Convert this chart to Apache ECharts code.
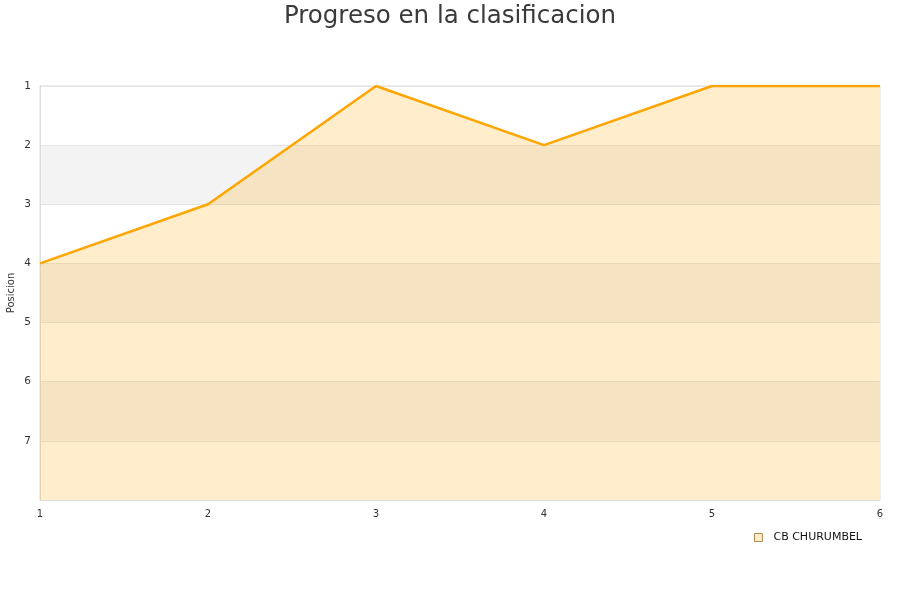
<!DOCTYPE html>
<html>
<head>
<meta charset="utf-8">
<script src="https://cdn.jsdelivr.net/npm/echarts@6/dist/echarts.min.js"></script>
<style>
html, body { margin: 0; padding: 0; background: #fff; }
#chart { width: 900px; height: 600px; }
</style>
</head>
<body>
<div id="chart"></div>
<script>
var jornadas = [1, 2, 3, 4, 5, 6];
var posiciones = [4, 3, 1, 2, 1, 1];
var equipo = 'CB CHURUMBEL';

var puntos = jornadas.map(function (j, i) { return [j, posiciones[i]]; });

var chart = echarts.init(document.getElementById('chart'));
chart.setOption({
    animation: false,
    backgroundColor: '#fff',
    title: {
        text: 'Progreso en la clasificacion',
        left: 'center',
        top: -1,
        textStyle: { fontSize: 24.5, fontWeight: 'normal', color: '#3a3a3a', fontFamily: 'DejaVu Sans' }
    },
    legend: {
        data: [equipo],
        right: 33,
        top: 527,
        icon: 'rect',
        itemWidth: 8,
        itemHeight: 8,
        itemStyle: { color: '#feedcc', borderColor: '#b08a50', borderWidth: 1 },
        textStyle: { fontSize: 11, color: '#111', fontFamily: 'DejaVu Sans', padding: [0, 0, 0, 6] }
    },
    grid: {
        left: 40, right: 20, top: 86, bottom: 100,
        containLabel: false,
        outerBoundsMode: 'none',
        show: true, borderColor: '#dddddd', borderWidth: 1
    },
    xAxis: {
        type: 'value',
        min: 1, max: 6, interval: 1,
        axisLine: { show: true, lineStyle: { color: '#dddddd' } },
        axisTick: { show: false },
        splitLine: { show: false },
        axisLabel: { color: '#333', fontSize: 10, margin: 9, fontFamily: 'DejaVu Sans' }
    },
    yAxis: {
        type: 'value',
        inverse: true,
        min: 1, max: 8, interval: 1,
        name: 'Posicion',
        nameLocation: 'middle',
        nameGap: 24,
        nameMoveOverlap: false,
        nameTextStyle: { fontSize: 10, color: '#333', fontFamily: 'DejaVu Sans' },
        axisLine: { show: true, lineStyle: { color: '#dddddd' } },
        axisTick: { show: false },
        axisLabel: {
            color: '#333', fontSize: 10.5, margin: 9, fontFamily: 'DejaVu Sans',
            verticalAlign: 'middle',
            formatter: function (v) { return v === 8 ? '' : String(v); }
        },
        splitLine: { show: true, lineStyle: { color: '#e4e4e4' } },
        splitArea: { show: true, areaStyle: { color: ['#ffffff', '#f3f3f3'] } }
    },
    series: [{
        name: equipo,
        type: 'line',
        data: puntos,
        showSymbol: false,
        symbol: 'none',
        lineStyle: { color: '#ffa500', width: 2.5 },
        itemStyle: { color: '#feedcc', borderColor: '#b08a50' },
        areaStyle: { color: '#ffa500', opacity: 0.2, origin: 'end' }
    }]
});
</script>
</body>
</html>
